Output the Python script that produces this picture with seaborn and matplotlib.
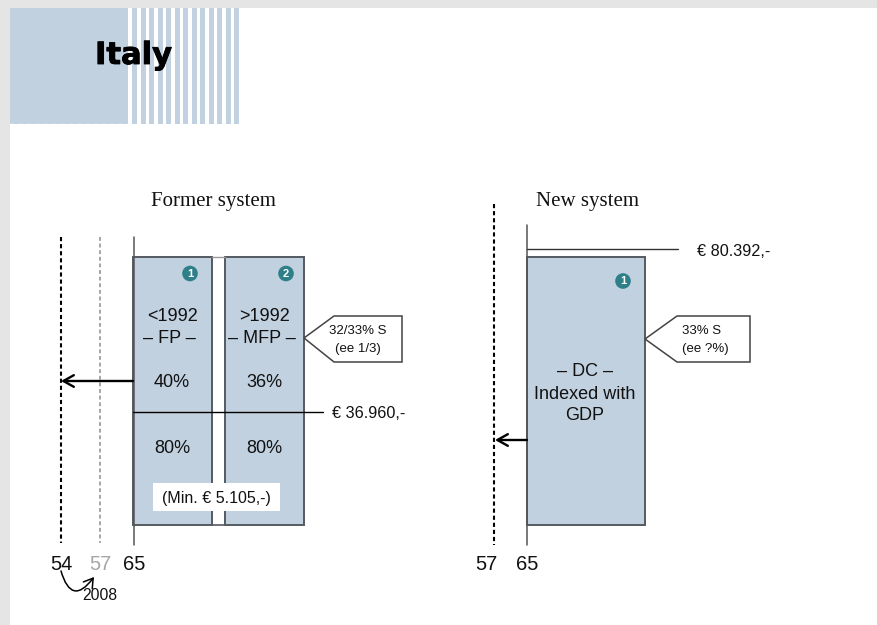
import matplotlib
matplotlib.use("Agg")
import matplotlib.pyplot as plt
from matplotlib.patches import Rectangle, Circle, Polygon, FancyArrowPatch
import matplotlib.patheffects as pe
import pandas as pd
import seaborn as sns

# Scheme content
title = "Italy"
system_names = ["Former system", "New system"]
pillar_names = ["FP", "MFP", "DC"]
pillar_heights = [268, 268, 268]
former_rates_upper = ["40%", "36%"]
former_rates_lower = ["80%", "80%"]
former_cohorts = ["<1992", ">1992"]
former_floor = "(Min. € 5.105,-)"
former_ceiling = "€ 36.960,-"
new_ceiling = "€ 80.392,-"
former_ages = ["54", "57", "65"]
new_ages = ["57", "65"]
reform_year = "2008"
former_contribution = ["32/33% S", "(ee 1/3)"]
new_contribution = ["33% S", "(ee ?%)"]
new_pillar_lines = ["– DC –", "Indexed with", "GDP"]

W, H = 877, 625
BASE = 525
BLUE = "#c1d1e0"
EDGE = "#555a60"
TEAL = "#2e7f87"
SANS = "Liberation Sans"


def Y(py):
    """Canvas row to axis value; the axis zero is the foot of the pillars."""
    return BASE - py


sns.set_theme(style="white")
plt.rcParams["font.family"] = [SANS, "DejaVu Sans"]

fig = plt.figure(figsize=(W / 100, H / 100), dpi=100, facecolor="white")
ax = fig.add_axes([0, 0, 1, 1])

# Page frame
ax.add_patch(Rectangle((0, Y(8)), W, 8, fc="#e5e5e5", ec="none", zorder=0))
ax.add_patch(Rectangle((0, Y(H)), 10, H, fc="#e5e5e5", ec="none", zorder=0))

# Header block with its striped fade
ax.add_patch(Rectangle((10, Y(123.5)), 118, 115.5, fc=BLUE, ec="none", zorder=1))
for i in range(13):
    ax.add_patch(Rectangle((132 + i * 8.5, Y(123.5)), 5, 115.5, fc=BLUE, ec="none", zorder=1))
ax.plot([10, 128], [Y(123.5), Y(123.5)], color="white", lw=1, ls=(0, (3, 3)), zorder=2)
ax.text(133.5, Y(55.5), title, family="DejaVu Sans", weight="bold", fontsize=22,
        ha="center", va="center", color="black", zorder=5,
        path_effects=[pe.withStroke(linewidth=0.6, foreground="black")])

# Pillars
pillars = pd.DataFrame({"name": pillar_names, "height": pillar_heights,
                        "centre": [172.5, 264.5, 586], "span": [79, 79, 118]})
for _, row in pillars.iterrows():
    sns.barplot(x=[row["centre"]], y=[row["height"]], width=row["span"], native_scale=True,
                color=BLUE, saturation=1, edgecolor=EDGE, linewidth=1.4,
                errorbar=None, ax=ax, zorder=3)

ax.set_xlim(0, W)
ax.set_ylim(Y(H), Y(0))
ax.axis("off")

# Thin rules closing the gap between the two former pillars
ax.plot([212, 225], [Y(257), Y(257)], color="#9a9a9a", lw=1, zorder=3)
ax.plot([212, 225], [Y(525), Y(525)], color=EDGE, lw=1.2, zorder=3)

# Age axes
ax.plot([61, 61], [Y(237), Y(543)], color="black", lw=1.5, ls=(0, (2, 1.4)), zorder=4)
ax.plot([100, 100], [Y(237), Y(543)], color="#a6a6a6", lw=1.4, ls=(0, (2, 1.4)), zorder=4)
ax.plot([133.5, 133.5], [Y(237), Y(545)], color="#555555", lw=1.1, zorder=4)
ax.plot([494, 494], [Y(204), Y(545)], color="black", lw=1.5, ls=(0, (2, 1.4)), zorder=4)
ax.plot([527, 527], [Y(225), Y(545)], color="#555555", lw=1.1, zorder=4)

# Ceilings
ax.plot([133, 323], [Y(412), Y(412)], color="black", lw=1, zorder=4)
ax.plot([527, 678], [Y(249), Y(249)], color="#333333", lw=1, zorder=4)
ax.text(332, Y(413.5), former_ceiling, fontsize=11.7, va="center", color="#111111")
ax.text(697, Y(251.5), new_ceiling, fontsize=11.7, va="center", color="#111111")

# Early retirement arrows
for x0, x1, py in [(133, 61, 381), (527, 495, 440)]:
    ax.add_patch(FancyArrowPatch((x0, Y(py)), (x1, Y(py)), arrowstyle="->,head_length=5,head_width=2.8",
                                 mutation_scale=1.5, color="black", lw=1.7, shrinkA=0, shrinkB=0, zorder=6))

# System headings
ax.text(213, Y(201.5), system_names[0], family="Liberation Serif", fontsize=15,
        ha="center", va="center", color="#111111")
ax.text(587, Y(201.5), system_names[1], family="Liberation Serif", fontsize=15,
        ha="center", va="center", color="#111111")

# Pillar labels
big = dict(fontsize=13, ha="center", va="center", color="#111111", zorder=6)
ax.text(172, Y(316.5), former_cohorts[0], **big)
ax.text(264, Y(316.5), former_cohorts[1], **big)
ax.text(169, Y(338.5), f"– {pillar_names[0]} –", **big)
ax.text(262, Y(338.5), f"– {pillar_names[1]} –", **big)
ax.text(172, Y(382.5), former_rates_upper[0], **big)
ax.text(264, Y(382.5), former_rates_upper[1], **big)
ax.text(172, Y(448.5), former_rates_lower[0], **big)
ax.text(264, Y(448.5), former_rates_lower[1], **big)
for line, py in zip(new_pillar_lines, [371.5, 394.5, 415.5]):
    ax.text(585, Y(py), line, **big)

# Minimum pension plate
ax.add_patch(Rectangle((153, Y(511)), 127, 28, fc="white", ec="none", zorder=5))
ax.text(216, Y(498.5), former_floor, fontsize=11.5, ha="center", va="center", color="#111111", zorder=6)

# Numbered badges
for n, (cx, cy) in zip(["1", "2", "1"], [(190, 273.5), (286, 273.5), (623, 281)]):
    ax.add_patch(Circle((cx, Y(cy)), 7.8, fc=TEAL, ec="none", zorder=6))
    ax.text(cx, Y(cy + 0.5), n, fontsize=8, weight="bold", ha="center", va="center",
            color="white", zorder=7)

# Contribution callouts
ax.add_patch(Polygon([(304, Y(338)), (334, Y(316)), (402, Y(316)), (402, Y(362)), (334, Y(362))],
                     closed=True, fc="white", ec="#444444", lw=1.1, zorder=4))
ax.text(358, Y(331), former_contribution[0], fontsize=9.5, ha="center", va="center", color="#111111", zorder=6)
ax.text(358, Y(349), former_contribution[1], fontsize=9.5, ha="center", va="center", color="#111111", zorder=6)
ax.add_patch(Polygon([(645, Y(339)), (677, Y(316)), (750, Y(316)), (750, Y(362)), (677, Y(362))],
                     closed=True, fc="white", ec="#444444", lw=1.1, zorder=4))
ax.text(682, Y(331), new_contribution[0], fontsize=9.5, va="center", color="#111111", zorder=6)
ax.text(682, Y(349), new_contribution[1], fontsize=9.5, va="center", color="#111111", zorder=6)

# Age labels
age_style = dict(fontsize=14.5, ha="center", va="center")
for label, x, col in zip(former_ages, [61, 100, 134], ["#111111", "#a6a6a6", "#111111"]):
    ax.text(x, Y(564.5), label, color=col, **age_style)
for label, x in zip(new_ages, [486, 527]):
    ax.text(x, Y(564.5), label, color="#111111", **age_style)

# Reform marker
ax.add_patch(FancyArrowPatch((61, Y(571)), (94, Y(577)), connectionstyle="arc3,rad=1.0",
                             arrowstyle="->,head_length=4,head_width=2.5", mutation_scale=1.6,
                             color="black", lw=1.1, shrinkA=0, shrinkB=0, zorder=6))
ax.text(100, Y(595.5), reform_year, fontsize=11.3, ha="center", va="center", color="#111111")

fig.savefig("out.png", dpi=100, facecolor="white")
